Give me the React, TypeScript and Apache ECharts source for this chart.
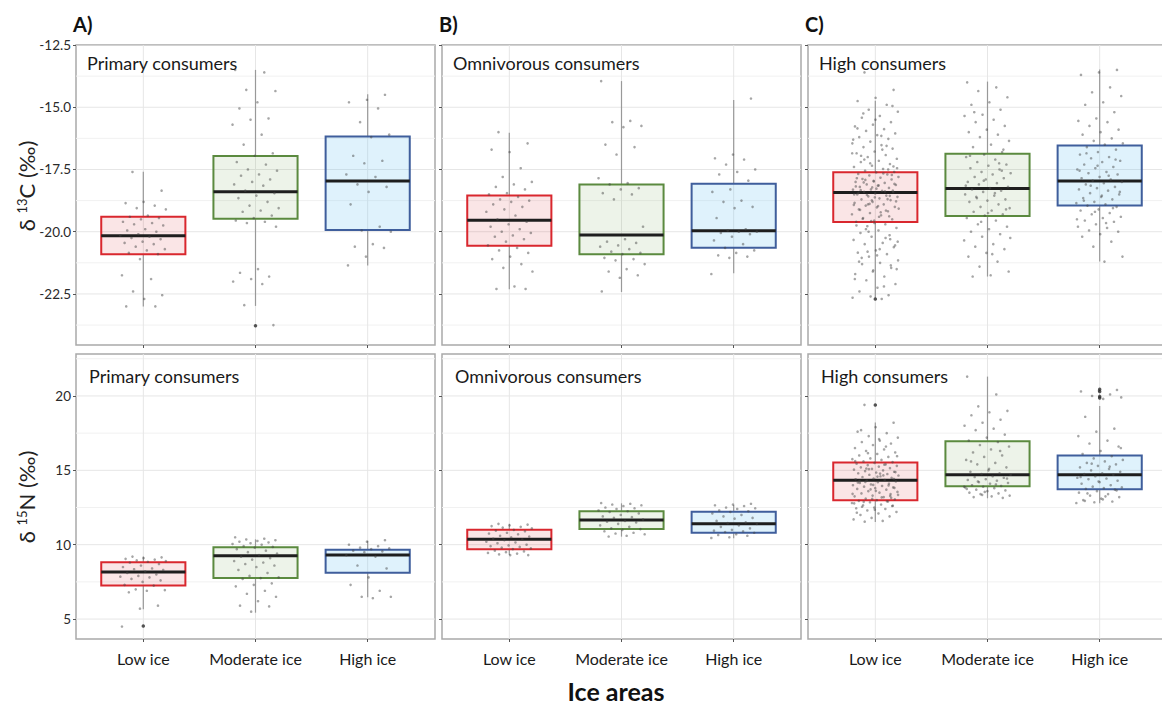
import React, { useEffect, useRef } from "react";
import * as echarts from "echarts";

// ---------------- data ----------------
const categories = ["Low ice", "Moderate ice", "High ice"];
const panelTitles = ["Primary consumers", "Omnivorous consumers", "High consumers"];
const panelLetters = ["A)", "B)", "C)"];

const carbonTicks = [-12.5, -15.0, -17.5, -20.0, -22.5];
const carbonMinorTicks = [-13.75, -16.25, -18.75, -21.25, -23.75];
const nitrogenTicks = [5, 10, 15, 20];
const nitrogenMinorTicks = [7.5, 12.5, 17.5, 22.5];
const categoryTicks = [1, 2, 3];
const carbonRange = [-24.55, -12.5];
const nitrogenRange = [3.66, 22.82];

// box stats per category: [lower whisker, Q1, median, Q3, upper whisker]
const carbonPrimaryBox = [
  [-23.0, -20.9, -20.16, -19.4, -17.59],
  [-22.98, -19.48, -18.39, -16.96, -13.5],
  [-21.36, -19.93, -17.96, -16.18, -14.48],
];
const carbonOmnivorousBox = [
  [-22.31, -20.56, -19.54, -18.55, -16.02],
  [-22.42, -20.9, -20.13, -18.1, -13.95],
  [-21.67, -20.64, -19.96, -18.07, -14.71],
];
const carbonHighBox = [
  [-22.65, -19.61, -18.42, -17.61, -14.74],
  [-21.8, -19.37, -18.26, -16.87, -13.97],
  [-21.2, -18.95, -17.96, -16.54, -13.48],
];
const nitrogenPrimaryBox = [
  [5.66, 7.25, 8.16, 8.82, 9.2],
  [5.43, 7.76, 9.26, 9.82, 10.36],
  [6.46, 8.12, 9.31, 9.66, 10.27],
];
const nitrogenOmnivorousBox = [
  [9.3, 9.69, 10.36, 11.01, 11.4],
  [10.54, 11.06, 11.66, 12.24, 12.78],
  [10.43, 10.81, 11.41, 12.22, 12.67],
];
const nitrogenHighBox = [
  [11.53, 12.99, 14.33, 15.52, 18.21],
  [13.12, 13.93, 14.71, 16.95, 21.3],
  [12.78, 13.73, 14.71, 15.99, 19.33],
];

// outliers (boxplot) per category
const carbonPrimaryOutliers = [[], [-23.78], []];
const carbonOmnivorousOutliers = [[], [], []];
const carbonHighOutliers = [[-22.7], [], []];
const nitrogenPrimaryOutliers = [[4.53], [], []];
const nitrogenOmnivorousOutliers = [[], [], []];
const nitrogenHighOutliers = [[19.39], [], [20.45, 20.3, 19.97, 19.86]];

// individual observations (jittered points)
const carbonPrimaryLow = [-17.6, -18.35, -18.8, -18.85, -18.95, -19.05, -19.1, -19.35, -19.4, -19.45, -19.5, -19.6, -19.65, -19.7, -19.75, -19.9, -19.95, -20.0, -20.1, -20.15, -20.2, -20.25, -20.3, -20.4, -20.45, -20.5, -20.6, -20.7, -20.75, -20.85, -20.9, -21.1, -21.75, -21.9, -22.4, -22.55, -22.7, -23.0, -23.0];
const carbonPrimaryModerate = [-13.5, -13.6, -14.3, -14.35, -14.8, -15.05, -15.45, -15.5, -15.7, -16.1, -16.5, -16.85, -16.95, -17.2, -17.3, -17.5, -17.55, -17.7, -17.75, -17.9, -18.0, -18.1, -18.15, -18.35, -18.45, -18.55, -18.65, -18.8, -18.95, -19.05, -19.15, -19.2, -19.35, -19.45, -19.55, -19.6, -19.65, -19.8, -21.5, -21.65, -21.8, -21.9, -22.0, -22.1, -22.95, -23.75];
const carbonPrimaryHigh = [-14.5, -14.7, -14.8, -15.05, -15.6, -16.1, -16.2, -16.95, -17.15, -17.25, -17.7, -17.8, -18.1, -18.2, -18.4, -18.9, -19.8, -19.95, -20.0, -20.5, -20.6, -20.65, -21.0, -21.35];

const carbonOmnivorousLow = [-16.0, -16.45, -16.8, -16.7, -17.45, -17.8, -18.0, -18.1, -18.2, -18.3, -18.45, -18.5, -18.6, -18.7, -18.75, -18.8, -18.9, -19.0, -19.1, -19.2, -19.35, -19.5, -19.6, -19.7, -19.8, -19.9, -20.0, -20.05, -20.15, -20.2, -20.3, -20.4, -20.55, -20.65, -20.75, -20.85, -21.0, -21.1, -21.3, -21.45, -21.6, -22.2, -22.3, -22.3];
const carbonOmnivorousModerate = [-13.95, -15.55, -15.6, -15.75, -15.8, -16.5, -16.6, -16.9, -17.85, -18.05, -18.1, -18.25, -18.3, -18.45, -18.5, -18.7, -19.8, -20.3, -20.4, -20.45, -20.55, -20.6, -20.7, -20.8, -20.85, -20.9, -21.05, -21.1, -21.15, -21.3, -21.5, -21.6, -21.75, -21.85, -22.4];
const carbonOmnivorousHigh = [-14.65, -16.9, -17.05, -17.1, -17.3, -17.5, -17.6, -17.7, -17.95, -18.3, -18.4, -18.75, -18.8, -19.0, -19.05, -19.45, -19.9, -19.95, -20.0, -20.0, -20.05, -20.1, -20.2, -20.35, -20.5, -20.65, -20.75, -20.85, -20.95, -21.0, -21.05, -21.7];

const carbonHighLow = [-13.6, -14.3, -14.62, -14.75, -14.9, -15.1, -15.18, -15.35, -15.42, -15.6, -15.7, -15.77, -15.88, -15.95, -16.05, -16.12, -16.2, -16.27, -16.38, -16.45, -16.52, -16.6, -16.66, -16.78, -16.85, -16.92, -17.0, -17.07, -17.15, -17.2, -17.28, -17.35, -17.4, -17.48, -17.55, -17.6, -17.62, -17.68, -17.7, -17.74, -17.8, -17.83, -17.88, -17.9, -17.96, -18.0, -18.04, -18.1, -18.12, -18.15, -18.2, -18.24, -18.3, -18.31, -18.36, -18.4, -18.41, -18.46, -18.5, -18.55, -18.58, -18.6, -18.66, -18.7, -18.73, -18.8, -18.84, -18.9, -18.95, -19.0, -19.02, -19.1, -19.18, -19.25, -19.3, -19.34, -19.45, -19.5, -19.55, -19.6, -19.7, -19.78, -19.85, -19.95, -20.05, -20.14, -20.2, -20.33, -20.45, -20.5, -20.62, -20.75, -20.84, -20.9, -21.0, -21.15, -21.25, -21.3, -21.45, -21.55, -21.7, -21.8, -21.95, -22.1, -22.25, -22.4, -22.55, -22.6, -22.65, -22.7, -18.02, -18.35, -18.62, -17.85, -19.15, -18.9, -17.45, -19.4, -16.95, -20.3, -18.22, -18.5,
  -17.66, -17.92, -18.08, -18.27, -18.44, -18.69, -18.88, -19.07, -19.22, -19.48, -17.72, -17.98, -18.18, -18.38, -18.52, -18.78, -18.97, -19.12, -19.38, -19.57, -16.3, -16.7, -17.1, -17.38, -15.5, -15.85, -16.55, -20.0, -20.4, -20.7, -21.05, -21.35, -21.6, -21.9, -22.2, -19.9, -20.55, -20.95, -21.2, -17.5, -17.25, -16.85, -16.15, -15.25, -14.95, -19.65, -19.75, -20.25, -20.8, -21.5, -18.14, -18.33, -18.56, -18.74, -18.92];
const carbonHighModerate = [-14.0, -14.2, -14.35, -14.6, -14.8, -14.9, -15.1, -15.3, -15.35, -15.5, -15.6, -15.75, -15.9, -16.0, -16.1, -16.2, -16.35, -16.5, -16.6, -16.8, -16.9, -17.0, -17.1, -17.2, -17.3, -17.35, -17.45, -17.5, -17.6, -17.65, -17.7, -17.8, -17.85, -17.9, -18.0, -18.05, -18.1, -18.2, -18.25, -18.3, -18.35, -18.4, -18.5, -18.55, -18.6, -18.7, -18.75, -18.8, -18.9, -19.0, -19.05, -19.15, -19.2, -19.3, -19.35, -19.45, -19.55, -19.7, -19.8, -19.9, -20.0, -20.1, -20.2, -20.35, -20.5, -20.6, -20.7, -20.85, -21.0, -21.2, -21.4, -21.6, -21.75, -21.8,
  -17.55, -17.95, -18.15, -18.45, -18.65, -19.1, -19.25, -16.95, -17.25, -19.6, -20.25, -20.9, -15.2, -16.7];
const carbonHighHigh = [-13.5, -13.6, -13.7, -14.2, -14.4, -14.55, -14.8, -14.9, -15.2, -15.45, -15.55, -15.6, -15.75, -15.9, -16.0, -16.1, -16.25, -16.35, -16.45, -16.5, -16.6, -16.7, -16.8, -16.9, -17.0, -17.05, -17.15, -17.2, -17.3, -17.4, -17.45, -17.5, -17.6, -17.65, -17.7, -17.8, -17.85, -17.9, -17.95, -18.0, -18.05, -18.1, -18.2, -18.25, -18.3, -18.35, -18.45, -18.5, -18.6, -18.65, -18.7, -18.8, -18.85, -18.9, -18.95, -19.0, -19.1, -19.15, -19.25, -19.3, -19.4, -19.45, -19.55, -19.6, -19.7, -19.8, -19.85, -19.95, -20.0, -20.1, -20.2, -20.4, -20.6, -21.0, -21.2,
  -16.85, -17.1, -17.35, -17.55, -17.75, -18.15, -18.4, -18.55, -18.75, -19.05, -19.2, -19.5, -19.65];

const nitrogenPrimaryLow = [9.2, 9.15, 9.1, 9.05, 9.0, 8.95, 8.9, 8.85, 8.8, 8.7, 8.6, 8.5, 8.4, 8.35, 8.3, 8.2, 8.1, 8.0, 7.9, 7.85, 7.8, 7.7, 7.6, 7.5, 7.3, 7.25, 7.0, 6.95, 6.9, 6.8, 5.9, 5.7, 4.5];
const nitrogenPrimaryModerate = [10.5, 10.4, 10.35, 10.3, 10.25, 10.2, 10.15, 10.1, 10.05, 10.0, 9.9, 9.85, 9.8, 9.7, 9.6, 9.5, 9.4, 9.3, 9.2, 9.1, 9.0, 8.9, 8.8, 8.7, 8.6, 8.5, 8.3, 8.1, 7.9, 7.8, 7.75, 7.7, 7.4, 7.3, 7.2, 6.9, 6.7, 6.5, 6.2, 5.9, 5.85, 5.5];
const nitrogenPrimaryHigh = [10.3, 10.2, 10.0, 9.9, 9.8, 9.75, 9.7, 9.6, 9.55, 9.5, 9.3, 9.2, 8.6, 8.4, 7.8, 7.3, 6.9, 6.5, 6.5, 6.4];

const nitrogenOmnivorousLow = [11.4, 11.35, 11.3, 11.25, 11.2, 11.15, 11.1, 11.0, 10.95, 10.9, 10.8, 10.75, 10.7, 10.6, 10.55, 10.5, 10.4, 10.35, 10.3, 10.2, 10.15, 10.1, 10.0, 9.95, 9.9, 9.85, 9.8, 9.75, 9.7, 9.6, 9.55, 9.5, 9.45, 9.4, 9.35, 9.3, 9.3];
const nitrogenOmnivorousModerate = [12.8, 12.75, 12.7, 12.65, 12.6, 12.5, 12.45, 12.4, 12.3, 12.25, 12.2, 12.1, 12.0, 11.9, 11.85, 11.8, 11.7, 11.6, 11.55, 11.5, 11.4, 11.3, 11.2, 11.1, 11.05, 11.0, 10.9, 10.8, 10.75, 10.7, 10.6, 10.55];
const nitrogenOmnivorousHigh = [12.75, 12.7, 12.65, 12.6, 12.5, 12.45, 12.4, 12.3, 12.25, 12.2, 12.1, 12.0, 11.9, 11.8, 11.75, 11.6, 11.5, 11.45, 11.4, 11.3, 11.2, 11.1, 11.0, 10.95, 10.9, 10.85, 10.8, 10.7, 10.65, 10.6, 10.5, 10.45];

const nitrogenHighLow = [19.4, 18.2, 17.9, 17.6, 17.5, 17.3, 17.2, 17.0, 16.9, 16.8, 16.7, 16.5, 16.4, 16.3, 16.2, 16.1, 16.0, 15.9, 15.8, 15.75, 15.7, 15.6, 15.55, 15.5, 15.45, 15.4, 15.35, 15.3, 15.25, 15.2, 15.15, 15.1, 15.05, 15.0, 14.95, 14.9, 14.85, 14.8, 14.75, 14.7, 14.65, 14.6, 14.55, 14.5, 14.45, 14.4, 14.35, 14.3, 14.25, 14.2, 14.15, 14.1, 14.05, 14.0, 13.95, 13.9, 13.85, 13.8, 13.75, 13.7, 13.6, 13.55, 13.5, 13.45, 13.4, 13.3, 13.25, 13.2, 13.1, 13.05, 13.0, 12.95, 12.9, 12.85, 12.8, 12.7, 12.65, 12.6, 12.5, 12.45, 12.4, 12.3, 12.2, 12.1, 12.0, 11.9, 11.8, 11.7, 11.6, 11.55, 14.42, 13.62, 14.18, 12.92, 15.08, 13.35, 14.78, 12.55, 13.15, 14.02,
  15.62, 15.38, 15.12, 14.88, 14.58, 14.28, 13.98, 13.72, 13.42, 13.18, 12.88, 12.62, 12.35, 12.15, 16.6, 16.15, 15.95, 17.1, 17.7, 13.28, 13.08, 12.78, 14.66, 14.22, 13.82];
const nitrogenHighModerate = [21.3, 20.1, 19.3, 19.0, 18.9, 18.7, 18.4, 18.2, 18.0, 17.8, 17.7, 17.4, 17.2, 17.0, 16.9, 16.7, 16.6, 16.4, 16.2, 16.0, 15.9, 15.7, 15.5, 15.4, 15.2, 15.0, 14.9, 14.8, 14.75, 14.7, 14.6, 14.55, 14.5, 14.4, 14.35, 14.3, 14.2, 14.15, 14.1, 14.0, 13.95, 13.9, 13.85, 13.8, 13.7, 13.65, 13.6, 13.5, 13.45, 13.4, 13.3, 13.25, 13.2, 13.15,
  13.55, 13.75, 14.05, 14.25, 14.45, 15.1, 15.6, 16.3, 13.35, 13.9];
const nitrogenHighHigh = [20.4, 20.35, 20.3, 20.1, 20.0, 19.9, 19.8, 18.6, 17.8, 17.6, 17.3, 17.0, 16.8, 16.6, 16.3, 16.1, 15.95, 15.8, 15.7, 15.6, 15.5, 15.4, 15.3, 15.2, 15.1, 15.0, 14.9, 14.8, 14.75, 14.7, 14.6, 14.5, 14.45, 14.4, 14.3, 14.2, 14.1, 14.0, 13.9, 13.85, 13.8, 13.75, 13.7, 13.6, 13.5, 13.4, 13.3, 13.2, 13.1, 13.0, 12.9, 12.85, 12.8,
  13.25, 13.45, 13.65, 14.25, 14.55, 15.25, 15.45, 16.5, 13.05, 12.95];

// ---------------- styles / layout ----------------
const FONT = 'Lato, "Open Sans", sans-serif';
const BOX_STROKE = ["#d9272e", "#5b8a3f", "#3f5e9c"];
const BOX_FILL = ["rgba(217,39,46,0.12)", "rgba(110,160,70,0.12)", "rgba(110,195,240,0.22)"];
const COL_LEFT = [76, 442, 808];
const COL_W = 359;
const ROW_TOP = [45, 354];
const ROW_H = [300, 285];
const X_MIN = 0.4;
const X_MAX = 3.6;
const HALF_BOX = 0.375;

const panels = [
  { row: 0, col: 0, box: carbonPrimaryBox, pts: [carbonPrimaryLow, carbonPrimaryModerate, carbonPrimaryHigh], out: carbonPrimaryOutliers },
  { row: 0, col: 1, box: carbonOmnivorousBox, pts: [carbonOmnivorousLow, carbonOmnivorousModerate, carbonOmnivorousHigh], out: carbonOmnivorousOutliers },
  { row: 0, col: 2, box: carbonHighBox, pts: [carbonHighLow, carbonHighModerate, carbonHighHigh], out: carbonHighOutliers },
  { row: 1, col: 0, box: nitrogenPrimaryBox, pts: [nitrogenPrimaryLow, nitrogenPrimaryModerate, nitrogenPrimaryHigh], out: nitrogenPrimaryOutliers },
  { row: 1, col: 1, box: nitrogenOmnivorousBox, pts: [nitrogenOmnivorousLow, nitrogenOmnivorousModerate, nitrogenOmnivorousHigh], out: nitrogenOmnivorousOutliers },
  { row: 1, col: 2, box: nitrogenHighBox, pts: [nitrogenHighLow, nitrogenHighModerate, nitrogenHighHigh], out: nitrogenHighOutliers },
];

// horizontal jitter for the points (display only)
const jitter = (i: number) => ((((i * 0.6180339887 + 0.27) % 1) + 1) % 1 - 0.5) * 0.42;

function buildOption() {
  const grid: any[] = [];
  const xAxis: any[] = [];
  const yAxis: any[] = [];
  const series: any[] = [];
  const graphic: any[] = [];

  panels.forEach((p, idx) => {
    const isTop = p.row === 0;
    grid.push({
      left: COL_LEFT[p.col],
      top: ROW_TOP[p.row],
      width: COL_W,
      height: ROW_H[p.row],
      show: true,
      backgroundColor: "#ffffff",
      borderColor: "#a9a9a9",
      borderWidth: 1.5,
      containLabel: false,
      outerBoundsMode: "none",
    });
    xAxis.push({
      type: "value",
      gridIndex: idx,
      min: X_MIN,
      max: X_MAX,
      splitLine: { show: false },
      axisLine: { show: false },
      axisTick: { show: true, customValues: categoryTicks, length: 3, lineStyle: { color: "#555" } },
      axisLabel: {
        show: !isTop,
        customValues: categoryTicks,
        formatter: (v: number) => categories[Math.round(v) - 1] || "",
        fontSize: 16,
        color: "#1a1a1a",
        fontFamily: FONT,
        margin: 11,
      },
    });
    const ticks = isTop ? carbonTicks : nitrogenTicks;
    const minor = isTop ? carbonMinorTicks : nitrogenMinorTicks;
    const range = isTop ? carbonRange : nitrogenRange;
    yAxis.push({
      type: "value",
      gridIndex: idx,
      min: range[0],
      max: range[1],
      splitLine: { show: false },
      axisLine: { show: false },
      axisTick: { show: true, customValues: ticks, length: 3, lineStyle: { color: "#555" } },
      axisLabel: {
        show: p.col === 0,
        customValues: ticks,
        formatter: (v: number) => (isTop ? v.toFixed(1) : String(v)),
        fontSize: 13.5,
        color: "#2a2a2a",
        fontFamily: FONT,
        margin: 5,
      },
    });

    // grid lines
    const lines: any[] = [];
    ticks.forEach((v) => lines.push([v, 0, 0]));
    minor.forEach((v) => lines.push([v, 0, 1]));
    categoryTicks.forEach((v) => lines.push([v, 1, 0]));
    series.push({
      type: "custom",
      xAxisIndex: idx,
      yAxisIndex: idx,
      silent: true,
      z: 1,
      clip: true,
      data: lines,
      encode: { x: -1, y: -1 },
      renderItem: (params: any, api: any) => {
        const v = api.value(0);
        const horiz = api.value(1) === 0;
        const minorLine = api.value(2) === 1;
        const a = horiz ? api.coord([X_MIN, v]) : api.coord([v, range[0]]);
        const b = horiz ? api.coord([X_MAX, v]) : api.coord([v, range[1]]);
        return {
          type: "line",
          shape: { x1: a[0], y1: a[1], x2: b[0], y2: b[1] },
          style: { stroke: minorLine ? "#f1f1f1" : "#e6e6e6", lineWidth: 1 },
        };
      },
    });

    // boxes
    series.push({
      type: "custom",
      xAxisIndex: idx,
      yAxisIndex: idx,
      silent: true,
      z: 2,
      data: p.box.map((b, i) => [i + 1, b[0], b[1], b[2], b[3], b[4], i]),
      encode: { x: 0, y: [1, 2, 3, 4, 5] },
      renderItem: (params: any, api: any) => {
        const x = api.value(0);
        const lo = api.value(1);
        const q1 = api.value(2);
        const med = api.value(3);
        const q3 = api.value(4);
        const hi = api.value(5);
        const ci = api.value(6);
        const tl = api.coord([x - HALF_BOX, q3]);
        const br = api.coord([x + HALF_BOX, q1]);
        const wTop = api.coord([x, hi]);
        const wQ3 = api.coord([x, q3]);
        const wQ1 = api.coord([x, q1]);
        const wBot = api.coord([x, lo]);
        const mL = api.coord([x - HALF_BOX, med]);
        const mR = api.coord([x + HALF_BOX, med]);
        return {
          type: "group",
          children: [
            { type: "line", shape: { x1: wTop[0], y1: wTop[1], x2: wQ3[0], y2: wQ3[1] }, style: { stroke: "#999999", lineWidth: 1.2 } },
            { type: "line", shape: { x1: wQ1[0], y1: wQ1[1], x2: wBot[0], y2: wBot[1] }, style: { stroke: "#999999", lineWidth: 1.2 } },
            {
              type: "rect",
              shape: { x: tl[0], y: tl[1], width: br[0] - tl[0], height: br[1] - tl[1] },
              style: { fill: BOX_FILL[ci], stroke: BOX_STROKE[ci], lineWidth: 2 },
            },
            { type: "line", shape: { x1: mL[0], y1: mL[1], x2: mR[0], y2: mR[1] }, style: { stroke: "#1e1e1e", lineWidth: 3 } },
          ],
        };
      },
    });

    // jittered observations
    const pts: number[][] = [];
    p.pts.forEach((arr, ci) => {
      arr.forEach((v, i) => pts.push([ci + 1 + jitter(i + ci * 11), v]));
    });
    series.push({
      type: "scatter",
      xAxisIndex: idx,
      yAxisIndex: idx,
      silent: true,
      z: 3,
      symbolSize: 2.6,
      itemStyle: { color: "rgba(70,70,70,0.6)" },
      data: pts,
    });

    // boxplot outliers
    const outs: number[][] = [];
    p.out.forEach((arr, ci) => arr.forEach((v) => outs.push([ci + 1, v])));
    series.push({
      type: "scatter",
      xAxisIndex: idx,
      yAxisIndex: idx,
      silent: true,
      z: 4,
      symbolSize: 3.5,
      itemStyle: { color: "#2a2a2a" },
      data: outs,
    });

    // panel title
    graphic.push({
      type: "text",
      x: COL_LEFT[p.col] + (isTop ? 11 : 13),
      y: isTop ? 63 : 376,
      style: {
        text: panelTitles[p.col],
        fontSize: 18,
        fontFamily: FONT,
        fill: "#1a1a1a",
        align: "left",
        verticalAlign: "middle",
      },
      z: 10,
    });
  });

  // panel letters
  panelLetters.forEach((l, c) => {
    graphic.push({
      type: "text",
      x: COL_LEFT[c] - 3,
      y: 24,
      style: { text: l, fontSize: 20, fontWeight: "bold", fontFamily: FONT, fill: "#111", align: "left", verticalAlign: "middle" },
    });
  });

  // y-axis titles
  const yTitles = [
    { y: 186, text: "{a|δ }{b|13}{a|C (‰)}" },
    { y: 497, text: "{a|δ }{b|15}{a|N (‰)}" },
  ];
  yTitles.forEach((t) => {
    graphic.push({
      type: "text",
      x: 26,
      y: t.y,
      rotation: Math.PI / 2,
      style: {
        text: t.text,
        align: "center",
        verticalAlign: "middle",
        rich: {
          a: { fontSize: 22, fontFamily: FONT, fill: "#222", color: "#222", verticalAlign: "bottom" },
          b: { fontSize: 13, fontFamily: FONT, fill: "#222", color: "#222", verticalAlign: "top" },
        },
      },
    });
  });

  // x-axis title
  graphic.push({
    type: "text",
    x: 616,
    y: 691,
    style: { text: "Ice areas", fontSize: 25, fontWeight: "bold", fontFamily: FONT, fill: "#111", align: "center", verticalAlign: "middle" },
  });

  return {
    animation: false,
    backgroundColor: "#ffffff",
    grid,
    xAxis,
    yAxis,
    series,
    graphic,
  };
}

export default function App() {
  const ref = useRef<HTMLDivElement>(null);
  useEffect(() => {
    if (!ref.current) return;
    const chart = echarts.init(ref.current, undefined, { renderer: "svg" });
    chart.setOption(buildOption() as any);
    return () => chart.dispose();
  }, []);
  return (
    <div
      ref={ref}
      style={{ position: "absolute", left: 0, top: 0, width: 1162, height: 708, background: "#fff" }}
    />
  );
}
